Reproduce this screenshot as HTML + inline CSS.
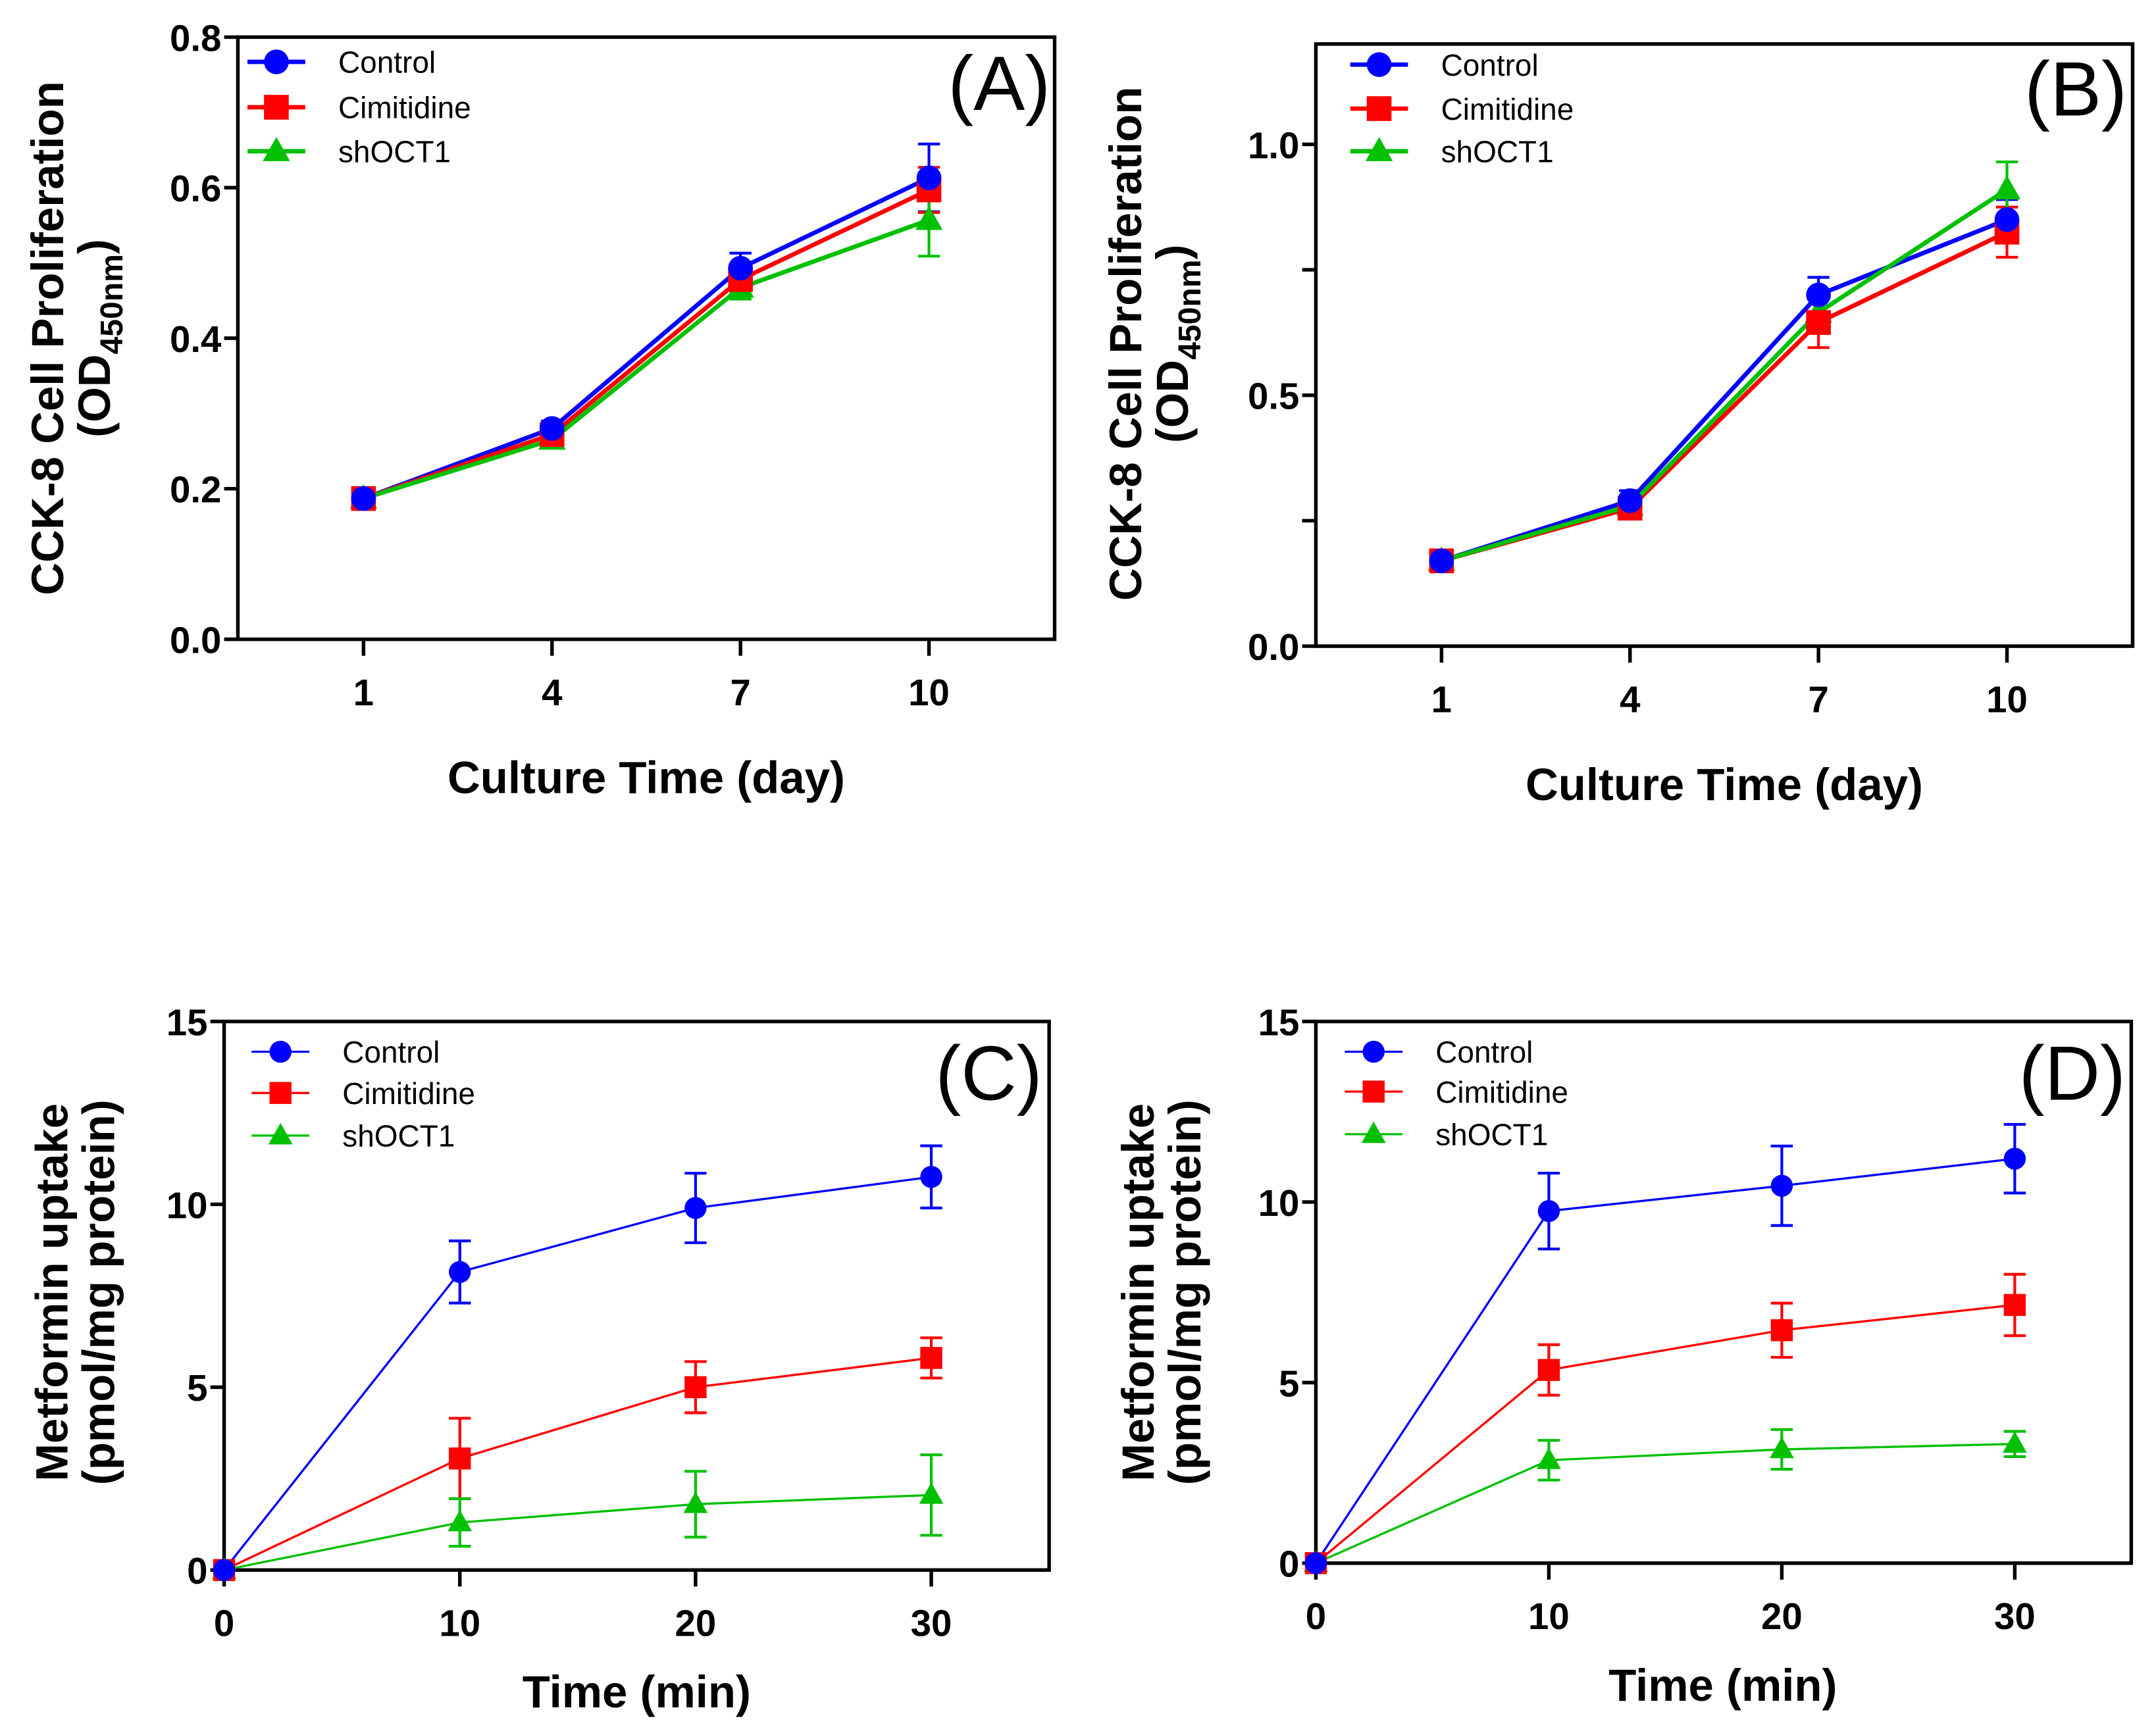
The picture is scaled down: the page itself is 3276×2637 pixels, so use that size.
<!DOCTYPE html>
<html><head><meta charset="utf-8"><style>
html,body{margin:0;padding:0;background:#fff;}
svg{display:block;}
text{font-family:"Liberation Sans",Arial,sans-serif;}
</style></head><body>
<svg id="fig" width="3276" height="2637" viewBox="0 0 1568 1262" preserveAspectRatio="none" xmlns="http://www.w3.org/2000/svg"></svg>
<script>
// Panel A data
const daysA = [1,4,7,10];
const ctrlA = [0.187,0.28,0.493,0.613];
const ctrlAErr = [0.01,0.01,0.02,0.045];
const cimA = [0.187,0.272,0.478,0.597];
const cimAErr = [0.01,0.01,0.015,0.03];
const shA = [0.187,0.265,0.467,0.557];
const shAErr = [0.005,0.008,0.015,0.048];
const yTicksA = [0,0.2,0.4,0.6,0.8];
const yLabelsA = ["0.0","0.2","0.4","0.6","0.8"];
// Panel B data
const daysB = [1,4,7,10];
const ctrlB = [0.17,0.29,0.70,0.85];
const ctrlBErr = [0.02,0.02,0.035,0.04];
const cimB = [0.17,0.275,0.645,0.825];
const cimBErr = [0.02,0.015,0.05,0.05];
const shB = [0.17,0.28,0.665,0.91];
const shBErr = [0.01,0.01,0.03,0.055];
const yTicksB = [0,0.25,0.5,0.75,1.0];
const yLabelsB = ["0.0","","0.5","","1.0"];
// Panel C data
const timesC = [0,10,20,30];
const ctrlC = [0,8.15,9.9,10.75];
const ctrlCErr = [0,0.85,0.95,0.85];
const cimC = [0,3.05,5.0,5.8];
const cimCErr = [0,1.1,0.7,0.55];
const shC = [0,1.3,1.8,2.05];
const shCErr = [0,0.65,0.9,1.1];
// Panel D data
const timesD = [0,10,20,30];
const ctrlD = [0,9.75,10.45,11.2];
const ctrlDErr = [0,1.05,1.1,0.95];
const cimD = [0,5.35,6.45,7.15];
const cimDErr = [0,0.7,0.75,0.85];
const shD = [0,2.85,3.15,3.3];
const shDErr = [0,0.55,0.55,0.35];
const yTicksCD = [0,5,10,15];
const yLabelsCD = ["0","5","10","15"];
const xTicksDay = [1,4,7,10];
const xTicksMin = [0,10,20,30];
const seriesNames = ["Control","Cimitidine","shOCT1"];

const NS="http://www.w3.org/2000/svg";
const svg=document.getElementById('fig');
function mk(tag,attrs,parent,txt){const e=document.createElementNS(NS,tag);for(const k in attrs)e.setAttribute(k,attrs[k]);if(txt!==undefined)e.textContent=txt;(parent||svg).appendChild(e);return e;}
const COL=["#0000ff","#ff0000","#00c000"];

function marker(g,kind,x,y,col,r){
  let m;
  if(kind===0) m=mk('circle',{cx:x,cy:y,r:r,fill:col},g);
  else if(kind===1) m=mk('rect',{x:x-r,y:y-r,width:2*r,height:2*r,fill:col},g);
  else m=mk('polygon',{points:`${x},${y-r*1.15} ${x-r*1.1},${y+r*0.8} ${x+r*1.1},${y+r*0.8}`,fill:col},g);
  
  
}

function panel(p){
  const g=mk('g',{});
  
  
  const X=v=>p.L+(v-p.x0)/(p.x1-p.x0)*(p.R-p.L);
  const Y=v=>p.B-(v-p.y0)/(p.y1-p.y0)*(p.B-p.T);
  const fr=mk('rect',{x:p.L,y:p.T,width:p.R-p.L,height:p.B-p.T,fill:'none',stroke:'#000','stroke-width':2.6},g);
  
  
  p.yt.forEach((v,i)=>{
    mk('line',{x1:p.L-10,x2:p.L,y1:Y(v),y2:Y(v),stroke:'#000','stroke-width':2.6},g);
    if(p.yl[i]!==""){const t=mk('text',{x:p.L-12,y:Y(v)+10,'text-anchor':'end','font-size':27,'font-weight':'bold'},g,p.yl[i]);
      
      }
  });
  p.xt.forEach(v=>{
    mk('line',{x1:X(v),x2:X(v),y1:p.B,y2:p.B+12,stroke:'#000','stroke-width':2.6},g);
    const t=mk('text',{x:X(v),y:p.B+48,'text-anchor':'middle','font-size':27,'font-weight':'bold'},g,String(v));
    
    
  });
  const xt=mk('text',{x:p.xtx,y:p.xty,'text-anchor':'middle','font-size':33,'font-weight':'bold'},g,p.xtitle);
  
  
  const yt=mk('text',{'text-anchor':'middle','font-size':33,'font-weight':'bold',transform:`translate(${p.ytx},${p.yty}) rotate(-90)`},g);
  
  
  mk('tspan',{x:0,dy:0},yt,p.ytitle1);
  const t2=mk('tspan',{x:0,dy:34},yt);
  if(p.sub){mk('tspan',{},t2,'(OD');mk('tspan',{'font-size':23,dy:9},t2,'450nm');mk('tspan',{dy:-9},t2,')');}
  else t2.textContent=p.ytitle2;
  const pl=mk('text',{x:p.plx,y:p.ply,'text-anchor':'end','font-size':56},g,'('+p.id+')');
  
  
  p.series.forEach((s,k)=>{
    const sg=mk('g',{},g);
    
    
    const pts=p.xs.map((x,i)=>X(x)+','+Y(s.v[i])).join(' ');
    mk('polyline',{points:pts,fill:'none',stroke:COL[k],'stroke-width':p.lw},sg);
    p.xs.forEach((x,i)=>{
      const e=s.e[i]; if(e>0){
        const cx=X(x),y1=Y(s.v[i]+e),y2=Y(s.v[i]-e);
        const eb=mk('path',{d:`M${cx},${y1}V${y2}M${cx-8},${y1}H${cx+8}M${cx-8},${y2}H${cx+8}`,stroke:COL[k],'stroke-width':2,fill:'none'},sg);
        
        
      }
    });
  });
  [2,1,0].forEach(k=>{p.xs.forEach((x,i)=>marker(g,k,X(x),Y(p.series[k].v[i]),COL[k],p.mr));});
  seriesNames.forEach((n,k)=>{
    const lg=mk('g',{},g);
    
    
    const y=p.legY[k];
    mk('line',{x1:p.legX,x2:p.legX+42,y1:y,y2:y,stroke:COL[k],'stroke-width':p.lw},lg);
    marker(lg,k,p.legX+21,y,COL[k],p.mr);
    mk('text',{x:p.legX+66,y:y+8,'font-size':22},lg,n);
  });
}

panel({id:'A',L:173,R:767,T:27,B:465,x0:-1,x1:12,y0:0,y1:0.8,xs:daysA,xt:xTicksDay,yt:yTicksA,yl:yLabelsA,
  series:[{v:ctrlA,e:ctrlAErr},{v:cimA,e:cimAErr},{v:shA,e:shAErr}],lw:3.2,mr:9,
  xtitle:'Culture Time (day)',xtx:470,xty:577,ytitle1:'CCK-8 Cell Proliferation',sub:true,ytx:46,yty:246,
  plx:764,ply:80,legX:180,legY:[45,78,110]});
panel({id:'B',L:957,R:1551,T:32,B:470,x0:-1,x1:12,y0:0,y1:1.2,xs:daysB,xt:xTicksDay,yt:yTicksB,yl:yLabelsB,
  series:[{v:ctrlB,e:ctrlBErr},{v:cimB,e:cimBErr},{v:shB,e:shBErr}],lw:3.2,mr:9,
  xtitle:'Culture Time (day)',xtx:1254,xty:582,ytitle1:'CCK-8 Cell Proliferation',sub:true,ytx:830,yty:250,
  plx:1547,ply:84,legX:982,legY:[47,79,110]});
panel({id:'C',L:163,R:763,T:743,B:1142,x0:0,x1:35,y0:0,y1:15,xs:timesC,xt:xTicksMin,yt:yTicksCD,yl:yLabelsCD,
  series:[{v:ctrlC,e:ctrlCErr},{v:cimC,e:cimCErr},{v:shC,e:shCErr}],lw:1.6,mr:8,
  xtitle:'Time (min)',xtx:463,xty:1242,ytitle1:'Metformin uptake',ytitle2:'(pmol/mg protein)',ytx:49,yty:940,
  plx:758,ply:800,legX:183,legY:[765,795,826]});
panel({id:'D',L:957,R:1550,T:743,B:1137,x0:0,x1:35,y0:0,y1:15,xs:timesD,xt:xTicksMin,yt:yTicksCD,yl:yLabelsCD,
  series:[{v:ctrlD,e:ctrlDErr},{v:cimD,e:cimDErr},{v:shD,e:shDErr}],lw:1.6,mr:8,
  xtitle:'Time (min)',xtx:1253,xty:1237,ytitle1:'Metformin uptake',ytitle2:'(pmol/mg protein)',ytx:839,yty:940,
  plx:1546,ply:800,legX:978,legY:[765,794,825]});
</script>
</body></html>
